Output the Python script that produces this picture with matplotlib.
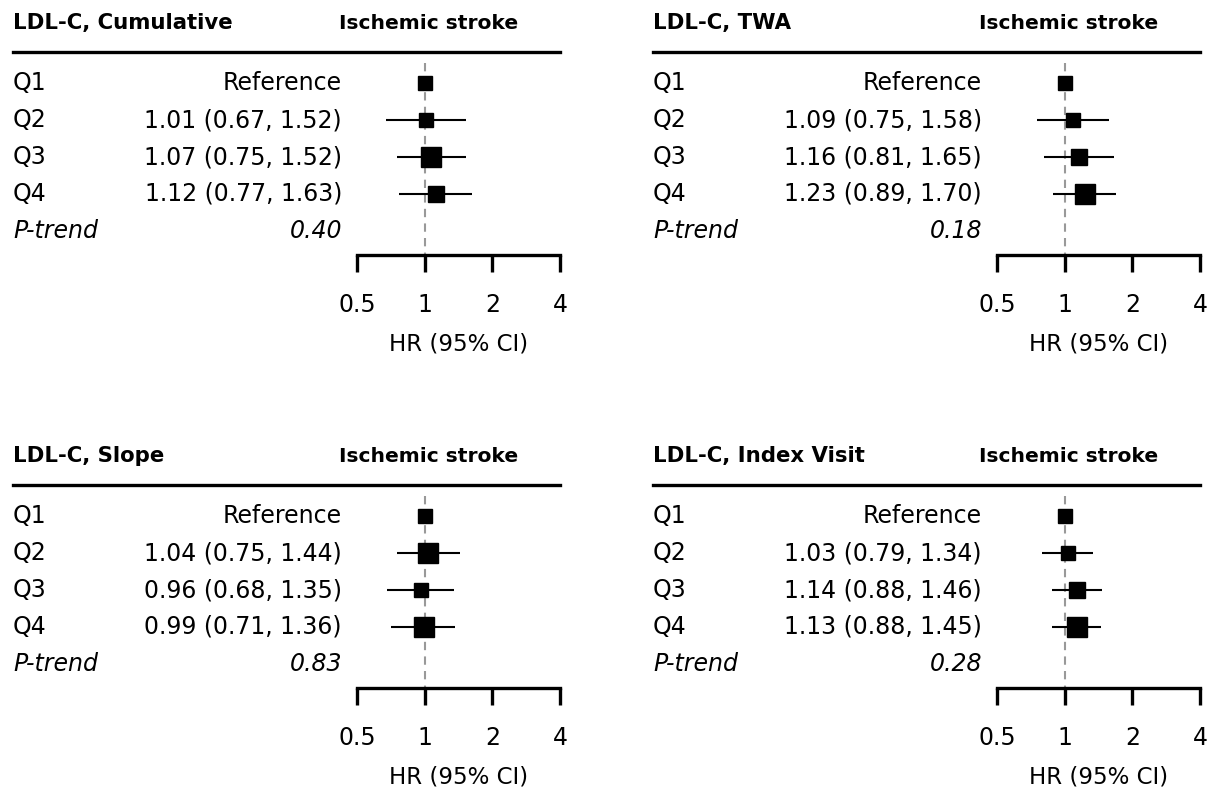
import numpy as np
import matplotlib
matplotlib.use('Agg')
import matplotlib.pyplot as plt
from matplotlib.ticker import FixedLocator, FixedFormatter, NullLocator

plt.rcParams['font.family'] = ['DejaVu Sans']

# --------------------------------------------------------------
# data
# --------------------------------------------------------------
panel_titles = ['LDL-C, Cumulative', 'LDL-C, TWA', 'LDL-C, Slope', 'LDL-C, Index Visit']
outcome = 'Ischemic stroke'
quartiles = ['Q1', 'Q2', 'Q3', 'Q4']

hr = [[1.00, 1.01, 1.07, 1.12],
      [1.00, 1.09, 1.16, 1.23],
      [1.00, 1.04, 0.96, 0.99],
      [1.00, 1.03, 1.14, 1.13]]
ci_low = [[None, 0.67, 0.75, 0.77],
          [None, 0.75, 0.81, 0.89],
          [None, 0.75, 0.68, 0.71],
          [None, 0.79, 0.88, 0.88]]
ci_high = [[None, 1.52, 1.52, 1.63],
           [None, 1.58, 1.65, 1.70],
           [None, 1.44, 1.35, 1.36],
           [None, 1.34, 1.46, 1.45]]
p_trend = ['0.40', '0.18', '0.83', '0.28']

# box size (pt) for each quartile
box_sizes = [[10, 10, 13.7, 12.2],
             [10, 10, 11.5, 13.7],
             [10, 13.7, 10, 13.7],
             [10, 10, 12.2, 13.7]]

x_ticks = [0.5, 1, 2, 4]
x_ticklabels = ['0.5', '1', '2', '4']

# --------------------------------------------------------------
# figure
# --------------------------------------------------------------
W, H = 1209, 789
fig = plt.figure(figsize=(W / 100, H / 100), dpi=100)

# pixel position (left, top) of the forest area in each panel
origins = [(357, 52), (997, 52), (357, 485), (997, 485)]
ax_w, ax_h = 203, 203
FS = 17


def draw_panel(k):
    x0, y0 = origins[k]
    ax = fig.add_axes([x0 / W, 1 - (y0 + ax_h) / H, ax_w / W, ax_h / H])
    ax.set_xscale('log', base=2)
    ax.set_xlim(0.5, 4)
    ax.set_ylim(4.65, -0.84)
    ax.patch.set_alpha(0)

    for s in ['top', 'left', 'right']:
        ax.spines[s].set_visible(False)
    ax.spines['bottom'].set_linewidth(2.4)
    ax.spines['bottom'].set_capstyle('projecting')
    ax.yaxis.set_major_locator(NullLocator())
    ax.xaxis.set_minor_locator(NullLocator())
    ax.xaxis.set_major_locator(FixedLocator(x_ticks))
    ax.xaxis.set_major_formatter(FixedFormatter(x_ticklabels))
    ax.tick_params(axis='x', direction='out', length=12.5, width=2.4,
                   labelsize=FS, pad=15)
    ax.set_xlabel('HR (95% CI)', fontsize=16.5, labelpad=11)

    # reference line at HR = 1
    ax.vlines(1, -0.55, 4.65, colors='#999999', linestyles=(0, (4, 3)),
              linewidth=1.5, zorder=1)

    # header rule across the whole panel
    ax.axhline(-0.84, xmin=(13 - 357) / ax_w, xmax=1, color='black',
               linewidth=2.4, clip_on=False)

    tx_left = (13 - 357) / ax_w
    tx_right = (342 - 357) / ax_w
    trans = ax.get_yaxis_transform()
    ax.text(tx_left, -1.62, panel_titles[k], transform=trans, fontsize=15.3,
            fontweight='bold', ha='left', va='center')
    ax.text((518 - 357) / ax_w, -1.62, outcome, transform=trans, fontsize=14.6,
            fontweight='bold', ha='right', va='center')

    for i, q in enumerate(quartiles):
        ax.text(tx_left, i, q, transform=trans, fontsize=FS,
                ha='left', va='center')
        if ci_low[k][i] is None:
            label = 'Reference'
        else:
            label = '%.2f (%.2f, %.2f)' % (hr[k][i], ci_low[k][i], ci_high[k][i])
            ax.plot([ci_low[k][i], ci_high[k][i]], [i, i], color='black',
                    linewidth=1.5, zorder=2, solid_capstyle='butt')
        ax.text(tx_right, i, label, transform=trans, fontsize=FS,
                ha='right', va='center')
        ax.plot(hr[k][i], i, marker='s', markersize=box_sizes[k][i],
                color='black', linestyle='none', zorder=3)

    ax.text(tx_left, 4, 'P-trend', transform=trans, fontsize=FS,
            style='italic', ha='left', va='center')
    ax.text(tx_right, 4, p_trend[k], transform=trans, fontsize=FS,
            style='italic', ha='right', va='center')


for k in range(4):
    draw_panel(k)

fig.savefig('out.png', dpi=100)
